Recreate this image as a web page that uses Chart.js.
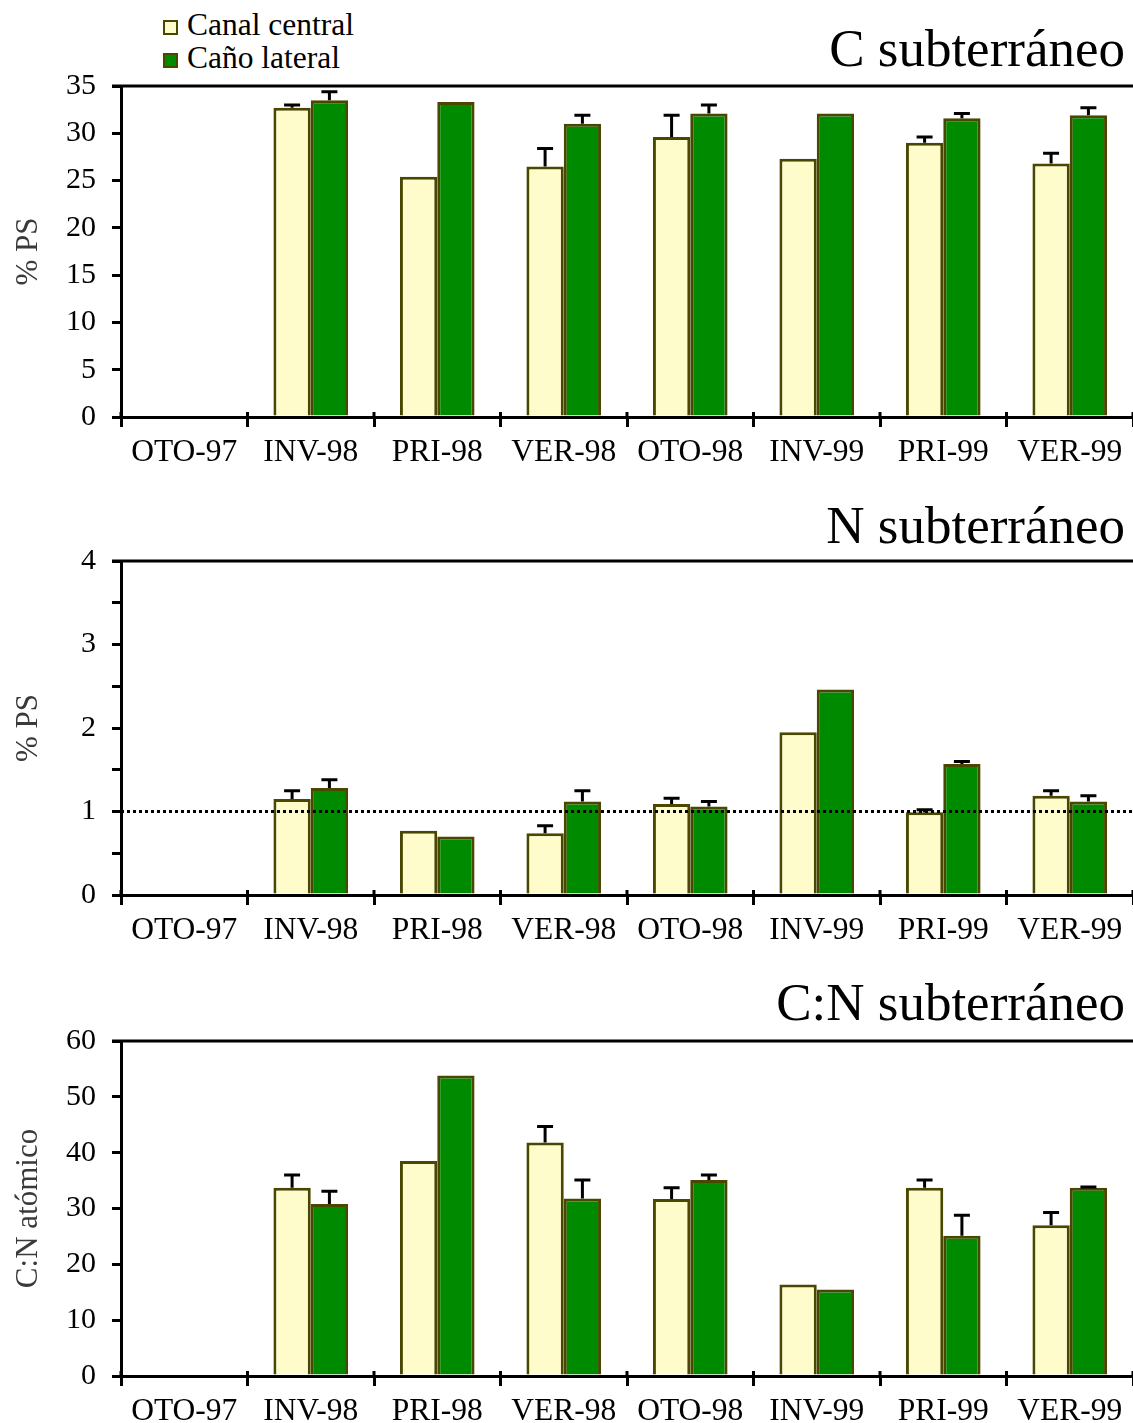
<!DOCTYPE html>
<html>
<head>
<meta charset="utf-8">
<script src="https://cdn.jsdelivr.net/npm/chart.js@4.4.1/dist/chart.umd.min.js"></script>
<style>
  html, body { margin: 0; padding: 0; background: #fff; }
  body { width: 1133px; height: 1423px; position: relative; overflow: hidden; font-family: 'Liberation Serif', 'Times New Roman', serif; }
  .cv { position: absolute; left: 0; }
  .title { position: absolute; right: 8px; font-size: 53px; line-height: 1; color: #000; white-space: nowrap; }
  .leg { position: absolute; left: 163px; font-size: 31.5px; line-height: 1; color: #000; white-space: nowrap; }
  .leg span.sw { display: inline-block; width: 11px; height: 11px; border: 2px solid #4A4700; margin-right: 9px; vertical-align: 0px; }
</style>
</head>
<body>
<div class="leg" style="top:9px;"><span class="sw" style="background:#FFFCCC"></span>Canal central</div>
<div class="leg" style="top:42px;"><span class="sw" style="background:#008A00"></span>Caño lateral</div>
<div class="title" style="top:22px;">C subterráneo</div>
<div class="title" style="top:499px;">N subterráneo</div>
<div class="title" style="top:976px;">C:N subterráneo</div>

<canvas id="c1" class="cv" style="top:0px;" width="1133" height="480"></canvas>
<canvas id="c2" class="cv" style="top:480px;" width="1133" height="480"></canvas>
<canvas id="c3" class="cv" style="top:960px;" width="1133" height="463"></canvas>

<script>
// ---- Data ----
const categories = ['OTO-97', 'INV-98', 'PRI-98', 'VER-98', 'OTO-98', 'INV-99', 'PRI-99', 'VER-99'];
const seriesNames = ['Canal central', 'Caño lateral'];

const cCentral = [null, 32.7, 25.4, 26.5, 29.6, 27.3, 29.0, 26.8];
const cCentralErr = [null, 0.3, 0, 1.9, 2.3, 0, 0.6, 1.1];
const cLateral = [null, 33.5, 33.3, 31.0, 32.1, 32.1, 31.6, 31.9];
const cLateralErr = [null, 0.9, 0, 0.9, 0.9, 0, 0.5, 0.8];

const nCentral = [null, 1.15, 0.77, 0.74, 1.09, 1.95, 0.99, 1.19];
const nCentralErr = [null, 0.10, 0, 0.09, 0.07, 0, 0.03, 0.06];
const nLateral = [null, 1.28, 0.70, 1.12, 1.06, 2.46, 1.57, 1.12];
const nLateralErr = [null, 0.10, 0, 0.13, 0.06, 0, 0.03, 0.07];

const cnCentral = [null, 33.7, 38.5, 41.8, 31.7, 16.4, 33.7, 27.0];
const cnCentralErr = [null, 2.3, 0, 2.9, 2.0, 0, 1.4, 2.3];
const cnLateral = [null, 30.8, 53.8, 31.8, 35.1, 15.5, 25.1, 33.7];
const cnLateralErr = [null, 2.3, 0, 3.3, 0.9, 0, 3.7, 0.15];

const cTicks = { max: 35, step: 2.5, labelStep: 5 };
const nTicks = { max: 4, step: 0.5, labelStep: 1 };
const cnTicks = { max: 60, step: 5, labelStep: 10 };

// ---- Styles ----
const FONT = "'Liberation Serif', 'Times New Roman', serif";
const creamFill = '#FFFCCC';
const greenFill = '#008A00';
const barBorder = '#4A4700';

const errBarsPlugin = {
  id: 'errbars',
  afterDatasetsDraw(chart, args, opts) {
    const ctx = chart.ctx;
    const ys = chart.scales.y;
    ctx.save();
    ctx.strokeStyle = '#000';
    ctx.lineWidth = 3;
    (opts.errors || []).forEach((errs, i) => {
      const meta = chart.getDatasetMeta(i);
      meta.data.forEach((bar, j) => {
        const e = errs[j];
        const v = chart.data.datasets[i].data[j];
        if (!e || v == null) return;
        const yTop = ys.getPixelForValue(v + e);
        ctx.beginPath();
        ctx.moveTo(bar.x, bar.y);
        ctx.lineTo(bar.x, yTop);
        ctx.moveTo(bar.x - 8, yTop);
        ctx.lineTo(bar.x + 8, yTop);
        ctx.stroke();
      });
    });
    ctx.restore();
  }
};

const framePlugin = {
  id: 'frame',
  afterDraw(chart, args, opts) {
    const ctx = chart.ctx;
    const a = chart.chartArea;
    const xs = chart.scales.x;
    ctx.save();
    ctx.strokeStyle = '#000';
    ctx.lineWidth = 3;
    ctx.beginPath();
    ctx.moveTo(a.left - 9, a.top);
    ctx.lineTo(chart.width, a.top);
    // small upward part of the crossing x ticks at category boundaries
    for (let i = 0; i <= categories.length; i++) {
      const x = xs.getPixelForValue(i - 0.5);
      ctx.moveTo(x, a.bottom - 5);
      ctx.lineTo(x, a.bottom);
    }
    ctx.stroke();
    ctx.restore();
  }
};

const refLinePlugin = {
  id: 'refline',
  afterDatasetsDraw(chart, args, opts) {
    if (opts.value == null) return;
    const ctx = chart.ctx;
    const a = chart.chartArea;
    const y = chart.scales.y.getPixelForValue(opts.value);
    ctx.save();
    ctx.strokeStyle = '#000';
    ctx.lineWidth = 3;
    ctx.setLineDash([3, 3]);
    ctx.beginPath();
    ctx.moveTo(a.left, y);
    ctx.lineTo(a.right, y);
    ctx.stroke();
    ctx.restore();
  }
};

function makeChart(id, central, lateral, errC, errL, ticks, yTitle, padTop, xHeight, refValue) {
  return new Chart(document.getElementById(id), {
    type: 'bar',
    data: {
      labels: categories,
      datasets: [
        { label: seriesNames[0], data: central, backgroundColor: creamFill, borderColor: barBorder, borderWidth: 3 },
        { label: seriesNames[1], data: lateral, backgroundColor: greenFill, borderColor: barBorder, borderWidth: 3 }
      ]
    },
    options: {
      responsive: false,
      animation: false,
      events: [],
      layout: { padding: { top: padTop, left: 0, right: 0, bottom: 0 } },
      datasets: { bar: { categoryPercentage: 0.59, barPercentage: 1.0 } },
      plugins: {
        legend: { display: false },
        tooltip: { enabled: false },
        errbars: { errors: [errC, errL] },
        refline: { value: refValue }
      },
      scales: {
        x: {
          offset: true,
          grid: { offset: true, drawOnChartArea: false, drawTicks: true, tickLength: 10, color: '#000', lineWidth: 3 },
          border: { display: true, color: '#000', width: 3 },
          ticks: { color: '#000', font: { family: FONT, size: 31.5 }, padding: 7, maxRotation: 0, autoSkip: false },
          afterFit: (s) => { s.height = xHeight; }
        },
        y: {
          min: 0,
          max: ticks.max,
          grid: { drawOnChartArea: false, drawTicks: true, tickLength: 9, color: '#000', lineWidth: 3 },
          border: { display: true, color: '#000', width: 3 },
          ticks: {
            stepSize: ticks.step,
            color: '#000',
            padding: 16,
            font: { family: FONT, size: 30 },
            callback: (v) => {
              const r = v / ticks.labelStep;
              return Math.abs(r - Math.round(r)) < 1e-6 ? String(Math.round(v * 100) / 100) : '';
            }
          },
          title: { display: true, text: yTitle, color: '#3a3a3a', font: { family: FONT, size: 31 }, padding: { top: 10, bottom: 0 } },
          afterFit: (s) => { s.width = 121; }
        }
      }
    },
    plugins: [errBarsPlugin, framePlugin, refLinePlugin]
  });
}

makeChart('c1', cCentral, cLateral, cCentralErr, cLateralErr, cTicks, '% PS', 86, 63, null);
makeChart('c2', nCentral, nLateral, nCentralErr, nLateralErr, nTicks, '% PS', 81, 65, 1);
makeChart('c3', cnCentral, cnLateral, cnCentralErr, cnLateralErr, cnTicks, 'C:N atómico', 81, 47, null);
</script>
</body>
</html>
